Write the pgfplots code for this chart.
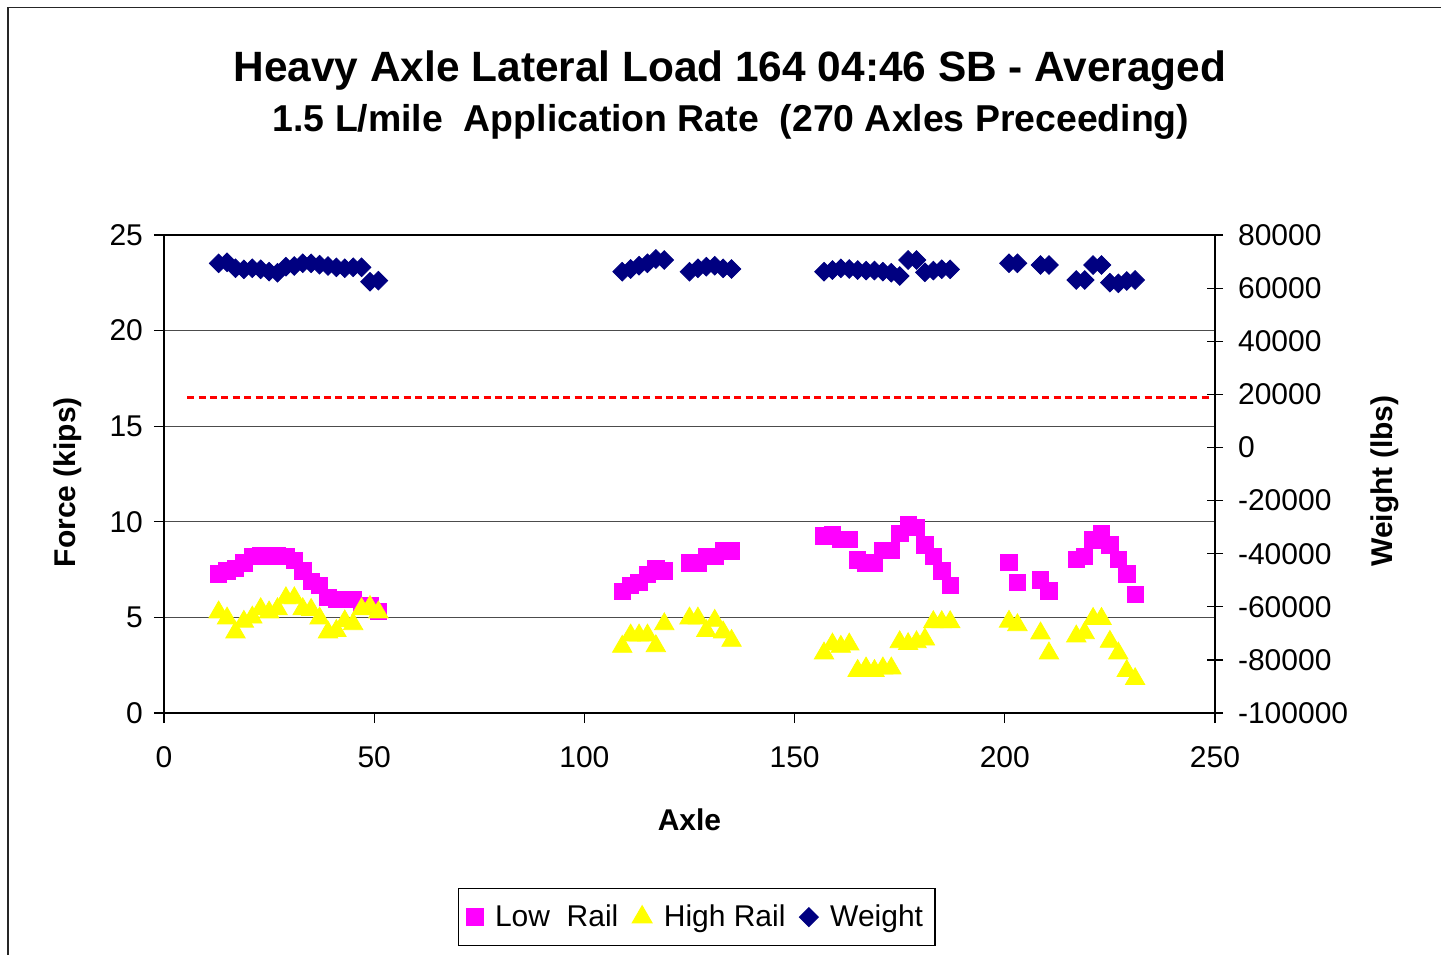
\documentclass[border=0pt]{standalone}
\usepackage{fontspec}
\setmainfont{Liberation Sans}
\usepackage{pgfplots}
\usepackage{pgfplotstable}
\pgfplotsset{compat=1.18}
\definecolor{navyw}{RGB}{0,0,128}
\definecolor{magw}{RGB}{255,0,255}
\definecolor{yelw}{RGB}{255,255,0}

\pgfplotstableread{
x y
13 7.27
15 7.43
17 7.57
19 7.86
21 8.18
23 8.22
25 8.22
27 8.22
29 8.18
31 7.97
33 7.43
35 6.87
37 6.66
39 6.05
41 5.94
43 5.94
45 5.94
47 5.6
49 5.6
51 5.3
109 6.37
111 6.66
113 6.84
115 7.25
117 7.57
119 7.43
125 7.86
127 7.86
129 8.18
131 8.18
133 8.47
135 8.47
157 9.26
159 9.35
161 9.08
163 9.08
165 8.0
167 7.86
169 7.86
171 8.49
173 8.49
175 9.4
177 9.83
179 9.71
181 8.79
183 8.18
185 7.44
187 6.69
201 7.88
203 6.84
208.5 6.96
210.5 6.38
217 8.04
219 8.18
221 9.05
223 9.36
225 8.79
227 8.04
229 7.27
231 6.2
}\lowrail

\pgfplotstableread{
x y
13 5.27
15 4.95
17 4.22
19 4.78
21 5.0
23 5.44
25 5.27
27 5.44
29 6.01
31 6.01
33 5.44
35 5.4
37 4.95
39 4.22
41 4.3
43 4.8
45 4.65
47 5.44
49 5.56
51 5.27
109 3.47
111 4.06
113 4.06
115 4.06
117 3.5
119 4.65
125 4.95
127 4.95
129 4.3
131 4.83
133 4.22
135 3.78
157 3.12
159 3.59
161 3.47
163 3.59
165 2.21
167 2.34
169 2.21
171 2.34
173 2.34
175 3.71
177 3.61
179 3.71
181 3.85
183 4.76
185 4.76
187 4.76
201 4.78
203 4.6
208.5 4.17
210.5 3.12
217 4.01
219 4.18
221 4.93
223 4.93
225 3.73
227 3.12
229 2.2
231 1.78
}\highrail

\pgfplotstableread{
x y
13 69340
15 69720
17 67460
19 67080
21 67460
23 67080
25 66200
27 65800
29 68070
31 68330
33 69340
35 69340
37 68830
39 68330
41 67840
43 67460
45 67840
47 67840
49 62430
51 62800
109 66200
111 67200
113 68450
115 69340
117 70960
119 70590
125 66200
127 67460
129 68070
131 68450
133 67460
135 67200
157 66200
159 66800
161 67460
163 67200
165 66800
167 66600
169 66600
171 66200
173 65800
175 64560
177 70590
179 70590
181 65950
183 66600
185 67080
187 67080
201 69340
203 69340
208.5 68700
210.5 68700
217 63060
219 63060
221 68700
223 68700
225 62050
227 61800
229 62680
231 63060
}\weight

\pgfplotstableread{
x y
5.5 16.5
248.8 16.5
}\limitline

\begin{document}
\begin{tikzpicture}
\useasboundingbox (0pt,0pt) rectangle (720.5pt,-477pt);
\draw[line width=0.8pt, black!85] (4pt,-3.7pt) rectangle (740pt,-490pt);
\node[anchor=base, font=\bfseries\fontsize{21.2}{26}\selectfont] at (365pt,-40.8pt) {Heavy Axle Lateral Load 164 04:46 SB - Averaged};
\node[anchor=base, font=\bfseries\fontsize{18.7}{22}\selectfont] at (365.5pt,-65.8pt) {1.5 L/mile\ \ Application Rate\ \ (270 Axles Preceeding)};

\pgfplotsset{
  mybase/.style={
    at={(82pt,-356.5pt)}, anchor=south west,
    width=525.5pt, height=239pt, scale only axis,
    xmin=0, xmax=250,
    every tick label/.append style={font=\fontsize{15}{18}\selectfont},
    /pgf/number format/assume math mode=true,
    axis line style={black, line width=0.7pt},
    major tick style={black, line width=0.6pt},
  }
}

\begin{axis}[mybase,
  ymin=0, ymax=25,
  axis y line*=left,
  xtick={0,50,...,250}, ytick={0,5,...,25},
  xtick pos=left,
  tick align=outside, major tick length=5pt,
  ymajorgrids, major grid style={black!70, line width=0.6pt},
  xticklabel style={yshift=-8pt},
  yticklabel style={xshift=-2pt},
  xlabel={\textbf{Axle}},
  xlabel style={at={(axis description cs:0.5,-0.2238)}, anchor=center, font=\bfseries\fontsize{15}{18}\selectfont},
  ylabel={\textbf{Force (kips)}},
  ylabel style={at={(axis description cs:-0.0913,0.483)}, anchor=center, font=\bfseries\fontsize{15}{18}\selectfont},
  legend columns=-1,
  legend style={at={(0.507,-0.427)}, anchor=center, draw=black, line width=0.6pt,
    font=\fontsize{15}{18}\selectfont, inner xsep=4pt, inner ysep=6pt,
    /tikz/every odd column/.append style={column sep=4pt},
    /tikz/every even column/.append style={column sep=5pt}},
  legend cell align=left,
]
\addplot[draw=red, color=red, line width=1.2pt, dash pattern=on 3.5pt off 2.2pt, forget plot] table[x=x,y=y] {\limitline};
\addplot[only marks, mark=square*, mark size=4.1pt, mark options={fill=magw, draw=magw}] table[x=x,y=y] {\lowrail};
\addlegendentry{Low\ \ Rail}
\addplot[only marks, mark=triangle*, mark size=5.6pt, mark options={fill=yelw, draw=yelw}] table[x=x,y=y] {\highrail};
\addlegendentry{High Rail}
\addlegendimage{only marks, mark=square*, mark size=3.3pt, mark options={fill=navyw, draw=navyw, rotate=45}}
\addlegendentry{Weight}
\end{axis}

\begin{axis}[mybase,
  ymin=-100000, ymax=80000,
  axis y line*=right, axis x line=none,
  ytick={-100000,-80000,...,80000},
  yticklabels={-100000,-80000,-60000,-40000,-20000,0,20000,40000,60000,80000},
  scaled y ticks=false,
  tick align=center, major tick length=8pt,
  yticklabel style={xshift=4pt},
  ylabel={\textbf{Weight (lbs)}},
  ylabel style={at={(axis description cs:1.1617,0.485)}, anchor=center, rotate=0, font=\bfseries\fontsize{15}{18}\selectfont},
]
\addplot[only marks, mark=square*, mark size=3.3pt, mark options={fill=navyw, draw=navyw, rotate=45}] table[x=x,y=y] {\weight};
\end{axis}
\end{tikzpicture}
\end{document}
